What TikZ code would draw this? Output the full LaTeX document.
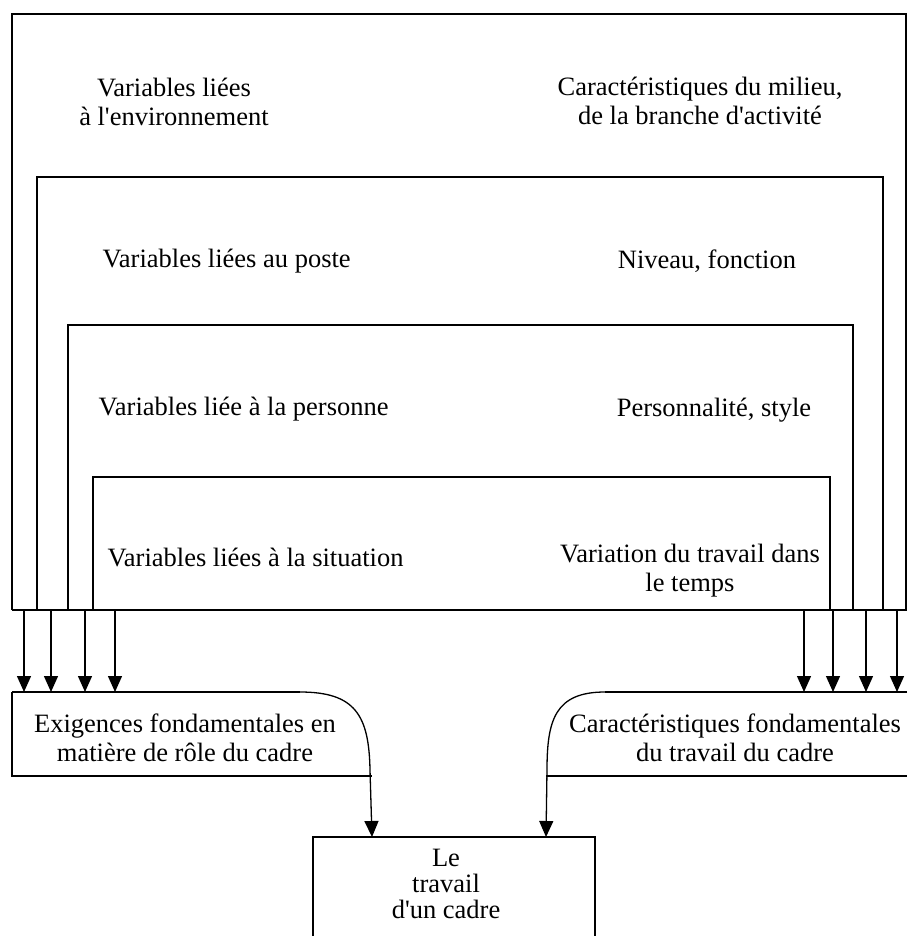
\documentclass[tikz,border=0pt]{standalone}
\usepackage{fontspec}
\setmainfont{Liberation Serif}
\newfontfamily\tms{Liberation Serif}
\usetikzlibrary{arrows.meta}
\begin{document}
\begin{tikzpicture}[x=1pt,y=-1pt,
  line width=1.4pt,
  lbl/.style={font=\tms\fontsize{26.5}{29}\selectfont, align=center, inner sep=0pt},
  arr/.style={-{Triangle[width=14pt,length=16pt]}, line width=1.3pt}]
\useasboundingbox (0,0) rectangle (907,936);
% nested boxes (sharing the bottom line)
\draw (12,610) -- (12,14) -- (907,14);
\draw (906,14) -- (906,610);
\draw (37,610) -- (37,177) -- (883,177) -- (883,610);
\draw (68,610) -- (68,325) -- (853,325) -- (853,610);
\draw (93,610) -- (93,477) -- (830,477) -- (830,610);
\draw (12,610) -- (907,610);
% texts in boxes
\node[lbl] (t1) at (174,102) {Variables liées\\à l'environnement};
\node[lbl] (t2) at (700,101) {Caractéristiques du milieu,\\de la branche d'activité};
\node[lbl, anchor=west] (t3) at (102,261) {Variables liées au poste};
\node[lbl] (t4) at (707,261) {Niveau, fonction};
\node[lbl, anchor=west] (t5) at (98,409) {Variables liée à la personne};
\node[lbl] (t6) at (714,410) {Personnalité, style};
\node[lbl, anchor=west] (t7) at (107,557) {Variables liées à la situation};
\node[lbl] (t8) at (690,571) {Variation du travail dans\\le temps};
% bottom boxes
\node[lbl] (ex) at (185,738) {Exigences fondamentales en\\matière de rôle du cadre};
\node[lbl] (ca) at (735,738) {Caractéristiques fondamentales\\du travail du cadre};
\node[lbl, font=\tms\fontsize{26.5}{26}\selectfont] (le) at (446,884) {Le\\travail\\d'un cadre};
\draw (12,692) -- (12,776) -- (372,776);
\draw (12,692) -- (300,692);
\draw (907,692) -- (605,692);
\draw (546,776) -- (907,776);
\draw (313,936) -- (313,837) -- (595,837) -- (595,936);
% arrows
\foreach \i/\x in {1/24,2/51,3/85,4/115,5/804,6/833,7/866,8/897}{
  \coordinate (s\i) at (\x,610);
  \coordinate (e\i) at (\x,692);
  \draw[arr] (s\i) -- (e\i);
}
\coordinate (lc) at (300,692);
\coordinate (rc) at (605,692);
\coordinate (lt) at (372,837);
\coordinate (rt) at (546,837);
\draw[arr] (lc) .. controls (355,692) and (369,715) .. (370,770) -- (lt);
\draw[arr] (rc) .. controls (555,692) and (547,720) .. (547,770) -- (rt);
\end{tikzpicture}
\end{document}
